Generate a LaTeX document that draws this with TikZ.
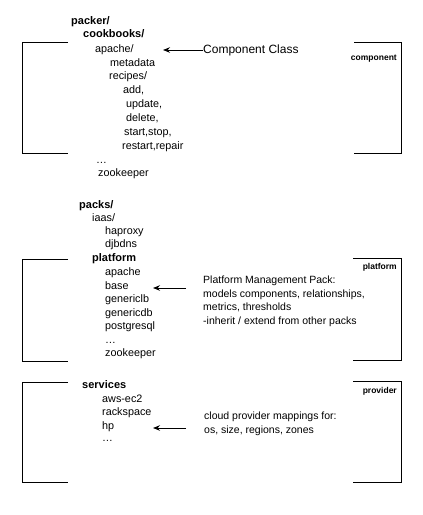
\documentclass[tikz,border=0pt]{standalone}
\usepackage{fontspec}
\setmainfont{Liberation Sans}
\usetikzlibrary{arrows.meta}

\begin{document}
\begin{tikzpicture}[x=1pt,y=1pt,
		tree/.style={anchor=base west,inner sep=0pt,font=\fontsize{10.8}{12}\selectfont},
		treeb/.style={tree,font=\fontsize{11}{12}\selectfont\bfseries},
		note/.style={anchor=north west,inner sep=0pt,align=left,font=\fontsize{10.5}{13.7}\selectfont},
		tag/.style={anchor=base east,inner sep=0pt,font=\fontsize{8.5}{10}\selectfont\bfseries},
		brk/.style={black,line width=1pt},
		arr/.style={black,line width=0.9pt,-{Stealth[length=7pt,width=5.5pt]}}]
		\useasboundingbox (0,0) rectangle (423,-515);
		\draw [brk] (68,-42) -- (22,-42) -- (22,-153) -- (68,-153);
		\draw [brk] (354,-42) -- (401,-42) -- (401,-153) -- (354,-153);
		\draw [brk] (68,-259) -- (22,-259) -- (22,-361) -- (68,-361);
		\draw [brk] (353,-258) -- (401,-258) -- (401,-360) -- (353,-360);
		\draw [brk] (68,-382) -- (22,-382) -- (22,-482) -- (68,-482);
		\draw [brk] (353,-381) -- (401,-381) -- (401,-482) -- (353,-482);
		\node [tag] (tcomp) at (397,-60) {component};
		\node [tag] (tplat) at (397,-269.5) {platform};
		\node [tag] (tprov) at (397,-393.5) {provider};
		\node [treeb] (packer) at (71,-24.5) {packer/};
		\node [treeb] (cookbooks) at (83,-37.5) {cookbooks/};
		\node [tree] (apache) at (95,-52.5) {apache/};
		\node [tree] (metadata) at (110,-66) {metadata};
		\node [tree] (recipes) at (109,-79.5) {recipes/};
		\node [tree] (add) at (123,-93.5) {add,};
		\node [tree] (update) at (126,-107.5) {update,};
		\node [tree] (delete) at (126,-121.5) {delete,};
		\node [tree] (startstop) at (124,-135.5) {start,stop,};
		\node [tree] (restart) at (122,-149.5) {restart,repair};
		\node [tree] (cbdots) at (96,-163.5) {\dots};
		\node [tree] (cbzoo) at (98,-176.5) {zookeeper};
		\node [treeb] (packs) at (79,-208.5) {packs/};
		\node [tree] (iaas) at (92,-221.5) {iaas/};
		\node [tree] (haproxy) at (105,-234.5) {haproxy};
		\node [tree] (djbdns) at (105,-247.5) {djbdns};
		\node [treeb] (platform) at (92,-261.5) {platform};
		\node [tree] (papache) at (105,-275.5) {apache};
		\node [tree] (base) at (105,-289.5) {base};
		\node [tree] (genericlb) at (105,-302.5) {genericlb};
		\node [tree] (genericdb) at (105,-316.5) {genericdb};
		\node [tree] (postgresql) at (105,-329.5) {postgresql};
		\node [tree] (pdots) at (105,-343) {\dots};
		\node [tree] (pzoo) at (105,-356.5) {zookeeper};
		\node [treeb] (services) at (82,-388.5) {services};
		\node [tree] (awsec2) at (102,-402.5) {aws-ec2};
		\node [tree] (rackspace) at (102,-415.5) {rackspace};
		\node [tree] (hp) at (102,-429.5) {hp};
		\node [tree] (sdots) at (102,-441) {\dots};
		\node [anchor=west,inner sep=0pt,font=\fontsize{12}{14}\selectfont] (cclass) at (203,-50) {Component Class};
		\node [note] (pmp) at (203,-275.5) {Platform Management Pack:\\models components, relationships,\\metrics, thresholds\\-inherit / extend from other packs};
		\node [note] (cpm) at (204,-412) {cloud provider mappings for:\\os, size, regions, zones};
		\coordinate (ccTip) at (163,-50);
		\coordinate (pmTip) at (153,-288);
		\coordinate (cpTip) at (153,-428);
		\draw [arr] (cclass.west) -- (ccTip);
		\draw [arr,shorten <=17pt] (pmTip -| pmp.west) -- (pmTip);
		\draw [arr,shorten <=18pt] (cpTip -| cpm.west) -- (cpTip);
	\end{tikzpicture}
\end{document}
